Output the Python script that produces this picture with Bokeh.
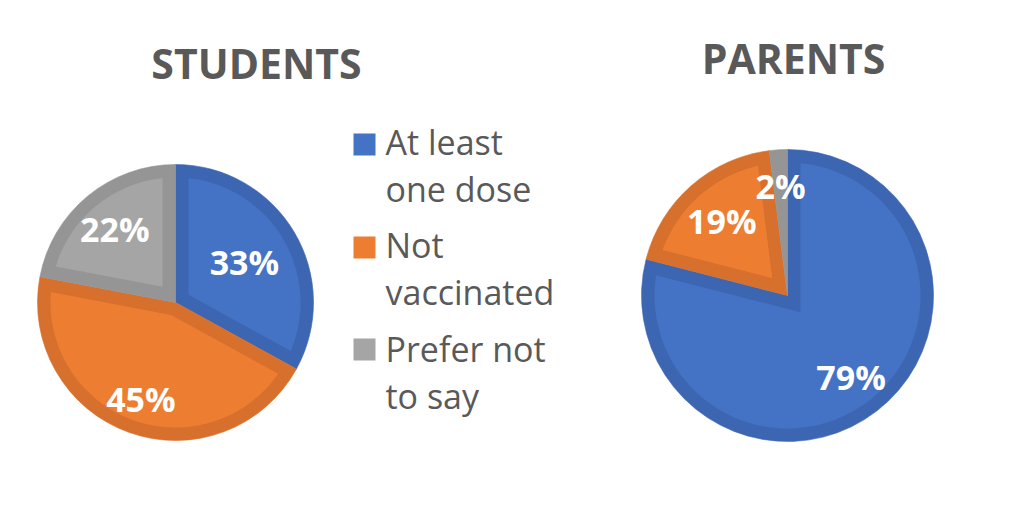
import numpy as np
from bokeh.plotting import figure
from bokeh.models import Range1d, ColumnDataSource
from bokeh.core.properties import value
from bokeh.embed import file_html
from bokeh.resources import INLINE

# ---------------- data ----------------
categories = ["At least one dose", "Not vaccinated", "Prefer not to say"]
legend_lines = [["At least", "one dose"], ["Not", "vaccinated"], ["Prefer not", "to say"]]
students = [33, 45, 22]
parents = [79, 19, 2]
titles = ["STUDENTS", "PARENTS"]

# ---------------- styles ----------------
light = ["#4472C4", "#ED7D31", "#A5A5A5"]
dark = ["#3C66B2", "#D6702C", "#959595"]
text_gray = "#595959"
FONT = "Open Sans"

W, H = 1008, 503
def sy(v):  # screen y -> data y (y up)
    return 519 - v

p = figure(width=W, height=H, output_backend="svg", toolbar_location=None,
           x_range=Range1d(0, W), y_range=Range1d(519 - H, 519),
           min_border=0, outline_line_color=None)
p.axis.visible = False
p.grid.visible = False
p.background_fill_color = "white"
p.border_fill_color = "white"

BAND = 13

def draw_pie(vals, cx, cy, r, label_fracs):
    vals = np.array(vals, dtype=float)
    fr = vals / vals.sum()
    ends = np.cumsum(fr) * 2 * np.pi
    starts = ends - fr * 2 * np.pi
    # outer (dark band) wedges
    src = ColumnDataSource(dict(
        x=[cx] * len(vals), y=[cy] * len(vals),
        sa=list(np.pi / 2 - starts), ea=list(np.pi / 2 - ends),
        c=dark[:len(vals)]))
    p.wedge(x="x", y="y", radius=r, start_angle="sa", end_angle="ea",
            direction="clock", fill_color="c", line_color="c", line_width=0.6,
            source=src)
    # inner lighter region (inset by the band width, mitered corner)
    xs, ys, cs = [], [], []
    rho = r - BAND
    for a1, a2, col in zip(starts, ends, light):
        th = a2 - a1
        s = BAND / np.sin(th / 2)
        dl = np.arcsin(BAND / rho)
        if s >= rho * 0.8 or a2 - dl <= a1 + dl:
            continue
        am = (a1 + a2) / 2
        px = [cx + s * np.sin(am)]
        py = [cy + s * np.cos(am)]
        arc = np.linspace(a1 + dl, a2 - dl, 120)
        px += list(cx + rho * np.sin(arc))
        py += list(cy + rho * np.cos(arc))
        xs.append(px); ys.append(py); cs.append(col)
    p.patches(xs=xs, ys=ys, fill_color=cs, line_color=None)
    # labels
    mids = (starts + ends) / 2
    lx = [cx + f * r * np.sin(m) for f, m in zip(label_fracs, mids)]
    ly = [cy + f * r * np.cos(m) for f, m in zip(label_fracs, mids)]
    lt = ["%d%%" % v for v in vals]
    p.text(x=lx, y=ly, text=lt, text_color="white", text_font=value(FONT),
           text_font_style="bold", text_font_size="34px",
           text_align="center", text_baseline="middle")

draw_pie(students, 175, sy(302), 138, [0.58, 0.74, 0.69])
draw_pie(parents, 787, sy(295), 146, [0.71, 0.68, 0.75])

# titles
p.text(x=[256, 793], y=[sy(62), sy(57)], text=titles, text_color=text_gray,
       text_font=value(FONT), text_font_style="bold", text_font_size="41px",
       text_align="center", text_baseline="middle")

# legend
sq_y = [144, 247, 349]
p.rect(x=[364] * 3, y=[sy(v) for v in sq_y], width=22, height=22,
       fill_color=light, line_color=None)
base1 = [141, 244, 348]
LINE_GAP = 47
lx, ly, lt = [], [], []
for lines, b1 in zip(legend_lines, base1):
    lx += [385, 385]
    ly += [sy(b1), sy(b1 + LINE_GAP)]
    lt += lines
p.text(x=lx, y=ly, text=lt, text_color=text_gray, text_font=value(FONT),
       text_font_size="34px", text_align="left", text_baseline="alphabetic")

open("out.html", "w").write(file_html(p, INLINE))
